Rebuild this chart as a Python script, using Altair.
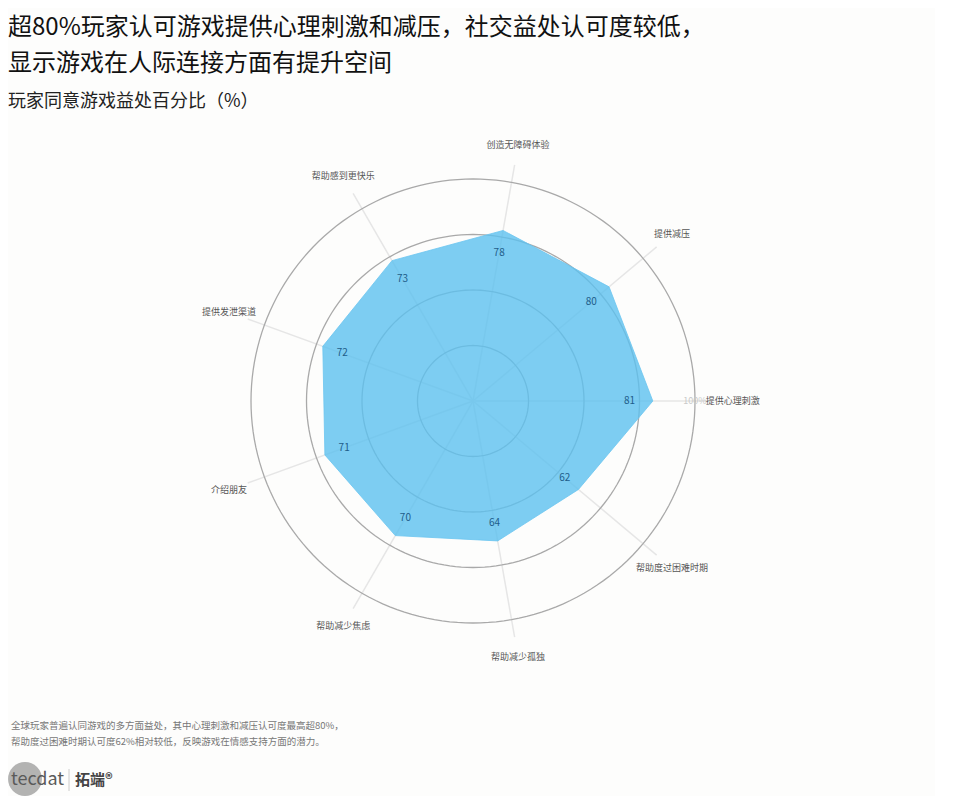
import altair as alt
import pandas as pd
import numpy as np

# ---------------- data ----------------
categories = ["创造无障碍体验", "提供减压", "提供心理刺激", "帮助度过困难时期",
              "帮助减少孤独", "帮助减少焦虑", "介绍朋友", "提供发泄渠道", "帮助感到更快乐"]
values = [78, 80, 81, 62, 64, 70, 71, 72, 73]
ring_ticks = [25, 50, 75, 100]
title_lines = ["超80%玩家认可游戏提供心理刺激和减压，社交益处认可度较低，",
               "显示游戏在人际连接方面有提升空间"]
subtitle_text = "玩家同意游戏益处百分比（%）"
note_lines = ["全球玩家普遍认同游戏的多方面益处，其中心理刺激和减压认可度最高超80%，",
              "帮助度过困难时期认可度62%相对较低，反映游戏在情感支持方面的潜力。"]

FONT = "Noto Sans CJK SC"

# ---------------- geometry helpers ----------------
N = len(categories)
START_DEG = 10
df = pd.DataFrame({"cat": categories, "value": values, "idx": list(range(N))})
df["ang"] = START_DEG + df["idx"] * 360.0 / N
poly = pd.concat([df, df.iloc[[0]].assign(idx=N)], ignore_index=True)

deg = np.arange(0, 361, 2)
rings = pd.DataFrame([(t, d) for t in ring_ticks for d in deg], columns=["tick", "deg"])
ring_lbl = pd.DataFrame({"tick": [max(ring_ticks)]})

# ---------------- layout ----------------
K = 2.22          # px per unit
T = 114           # page y of plot top (approx)
W = 924
H = 788 - T
cx_px = 470 - 8
cy_px = 400 - T
xs = alt.Scale(domain=[-cx_px / K, (W - cx_px) / K], nice=False, zero=False)
ys = alt.Scale(domain=[-(H - cy_px) / K, cy_px / K], nice=False, zero=False)

def X(f):
    return alt.X(f"{f}:Q", scale=xs, axis=None)

def Y(f):
    return alt.Y(f"{f}:Q", scale=ys, axis=None)

rad = "PI/180"

spokes = alt.Chart(df).transform_calculate(
    x0="0", y0="0",
    xe=f"108*sin(datum.ang*{rad})", ye=f"108*cos(datum.ang*{rad})"
).mark_rule(color="#e6e6e6", strokeWidth=1.5).encode(
    x=X("x0"), y=Y("y0"), x2="xe:Q", y2="ye:Q")

ring_layer = alt.Chart(rings).transform_calculate(
    rx=f"datum.tick*sin(datum.deg*{rad})", ry=f"datum.tick*cos(datum.deg*{rad})"
).mark_line(color="#a9a9a9", strokeWidth=1.3).encode(
    x=X("rx"), y=Y("ry"), detail="tick:N", order="deg:Q")

polygon = alt.Chart(poly).transform_calculate(
    px=f"datum.value*sin(datum.ang*{rad})", py=f"datum.value*cos(datum.ang*{rad})"
).mark_line(filled=True, fill="#5cc0ef", fillOpacity=0.8, stroke="#6cc6f0",
            strokeWidth=1, strokeOpacity=0.8).encode(
    x=X("px"), y=Y("py"), order="idx:Q")

value_labels = alt.Chart(df).transform_calculate(
    lx=f"datum.value*0.87*sin(datum.ang*{rad})", ly=f"datum.value*0.87*cos(datum.ang*{rad})"
).mark_text(font=FONT, fontSize=10, color="#1f5d8a", align="center", baseline="middle").encode(
    x=X("lx"), y=Y("ly"), text="value:Q")

cat_labels = alt.Chart(df).transform_calculate(
    cx=f"117*sin(datum.ang*{rad})", cy=f"117*cos(datum.ang*{rad})"
).mark_text(font=FONT, fontSize=9, color="#555555", align="center", baseline="middle").encode(
    x=X("cx"), y=Y("cy"), text="cat:N")

tick_label = alt.Chart(ring_lbl).transform_calculate(
    tx="datum.tick", ty="0", lab="datum.tick + '%'"
).mark_text(font=FONT, fontSize=9, color="#c9c9c9", align="center", baseline="middle").encode(
    x=X("tx"), y=Y("ty"), text="lab:N")

notes = alt.Chart(pd.DataFrame({"t": ["\n".join(note_lines)]})).mark_text(
    font=FONT, fontSize=9.5, color="#777777", align="left", baseline="middle",
    lineBreak="\n", lineHeight=16, x=0, y=725 - T).encode(text="t:N")

logo_circle = alt.Chart(pd.DataFrame({"t": ["o"]})).mark_point(
    filled=True, shape="circle", size=1150, color="#9a9a9a", opacity=0.75,
    x=14, y=778 - T).encode(detail="t:N")
logo_text = alt.Chart(pd.DataFrame({"t": ["tecdat"]})).mark_text(
    font=FONT, fontSize=18, color="#5a5a5a", align="left", baseline="middle",
    x=0, y=779 - T).encode(text="t:N")
logo_sep = alt.Chart(pd.DataFrame({"t": ["o"]})).mark_rule(
    color="#cccccc", strokeWidth=1).encode(
    x=alt.value(58), y=alt.value(768 - T), y2=alt.value(790 - T))
logo_cn = alt.Chart(pd.DataFrame({"t": ["拓端®"]})).mark_text(
    font=FONT, fontSize=15, fontWeight="bold", color="#444444", align="left",
    baseline="middle", x=64, y=779 - T).encode(text="t:N")

chart = alt.layer(
    spokes, ring_layer, polygon, value_labels, cat_labels, tick_label,
    notes, logo_circle, logo_text, logo_sep, logo_cn
).properties(
    width=W, height=H,
    padding={"left": 0, "top": 8, "right": 0, "bottom": 0},
    background="#fdfdfc",
    title=alt.TitleParams(
        text=title_lines, subtitle=subtitle_text, anchor="start",
        font=FONT, fontSize=24, fontWeight="normal", color="#111111", lineHeight=36,
        subtitleFont=FONT, subtitleFontSize=18, subtitleColor="#222222",
        subtitlePadding=17, offset=4),
).configure_view(stroke=None)

chart.save("out.html", embed_options={"renderer": "svg", "actions": False})
